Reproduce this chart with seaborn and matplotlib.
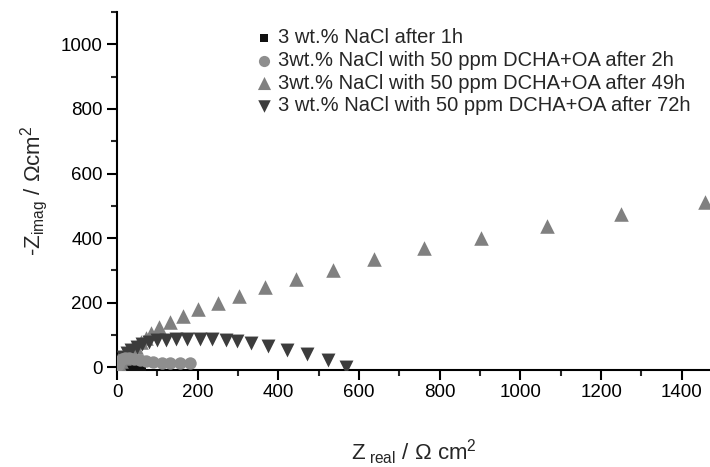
import numpy as np
import pandas as pd
import matplotlib
matplotlib.use('Agg')
import matplotlib.pyplot as plt
from matplotlib.ticker import MultipleLocator
import seaborn as sns

# Nyquist data (Z_real, -Z_imag in Ohm cm^2)
x_1h = [25, 32, 40, 47, 54, 60]
y_1h = [2, 4, 5, 4, 2, 0]

x_2h = [2, 6, 12, 20, 30, 42, 56, 72, 90, 110, 132, 156, 180]
y_2h = [8, 18, 25, 28, 28, 26, 22, 18, 15, 14, 13, 13, 14]

x_49h = [2, 5, 10, 16, 24, 34, 46, 60, 72, 84, 104, 132, 164, 201, 249,
         301, 366, 443, 535, 637, 761, 903, 1067, 1249, 1458]
y_49h = [3, 10, 20, 30, 40, 52, 64, 78, 92, 106, 124, 140, 158, 180, 199,
         220, 248, 273, 301, 335, 370, 401, 438, 475, 512]

x_72h = [3, 8, 15, 24, 35, 48, 62, 80, 100, 122, 146, 173, 205, 235, 269,
         298, 331, 374, 421, 470, 522, 567]
y_72h = [8, 20, 32, 44, 55, 64, 72, 78, 83, 86, 88, 89, 89, 88, 86,
         82, 75, 66, 54, 42, 24, 2]

labels = ['3 wt.% NaCl after 1h',
          '3wt.% NaCl with 50 ppm DCHA+OA after 2h',
          '3wt.% NaCl with 50 ppm DCHA+OA after 49h',
          '3 wt.% NaCl with 50 ppm DCHA+OA after 72h']

sns.set_style('ticks')
plt.rcParams['font.family'] = ['Liberation Sans', 'DejaVu Sans']
plt.rcParams['mathtext.fontset'] = 'custom'
plt.rcParams['mathtext.rm'] = 'Liberation Sans'
plt.rcParams['mathtext.it'] = 'Liberation Sans'

fig = plt.figure(figsize=(7.1, 4.67), dpi=100)
ax = fig.add_axes([0.165, 0.208, 0.835, 0.766])

series = [
    (x_1h, y_1h, 's', '#111111', 45),
    (x_2h, y_2h, 'o', '#8e8e8e', 80),
    (x_49h, y_49h, '^', '#808080', 110),
    (x_72h, y_72h, 'v', '#3c3c3c', 100),
]
# draw back to front so the small spectra are not hidden completely
order = [0, 2, 3, 1]
for i in order:
    xs, ys, m, c, s = series[i]
    df = pd.DataFrame({'x': xs, 'y': ys})
    sns.scatterplot(data=df, x='x', y='y', marker=m, color=c, s=s,
                    linewidth=0, ax=ax, label=labels[i], zorder=3)

h, l = ax.get_legend_handles_labels()
idx = [l.index(lab) for lab in labels]
ax.legend([h[k] for k in idx], [l[k] for k in idx], loc='upper left',
          bbox_to_anchor=(0.2, 1.0), frameon=False, fontsize=14.5,
          handletextpad=0.1, labelspacing=0.18, borderaxespad=0.4,
          markerscale=0.9, handlelength=1.2)

ax.set_xlim(0, 1470)
ax.set_ylim(-8, 1100)
ax.xaxis.set_major_locator(MultipleLocator(200))
ax.xaxis.set_minor_locator(MultipleLocator(100))
ax.yaxis.set_major_locator(MultipleLocator(200))
ax.yaxis.set_minor_locator(MultipleLocator(100))
ax.set_yticks([0, 200, 400, 600, 800, 1000])

ax.tick_params(which='major', direction='out', length=7, width=1.5,
               labelsize=13.5, colors='black')
ax.tick_params(which='minor', direction='out', length=4, width=1.5)
for sp in ['top', 'right']:
    ax.spines[sp].set_visible(False)
for sp in ['left', 'bottom']:
    ax.spines[sp].set_linewidth(1.5)
    ax.spines[sp].set_color('black')

ax.set_xlabel(r'Z$_{\ \mathrm{real}}$ / $\Omega$ cm$^2$', fontsize=16, labelpad=26)
ax.set_ylabel(r'-Z$_{\mathrm{imag}}$ / $\Omega$cm$^2$', fontsize=16, labelpad=8)

fig.savefig('out.png', dpi=100)
